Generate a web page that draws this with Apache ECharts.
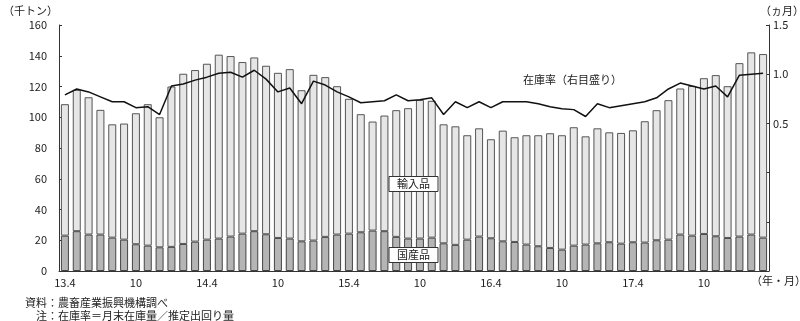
<!DOCTYPE html>
<html>
<head>
<meta charset="utf-8">
<script src="https://cdn.jsdelivr.net/npm/echarts@6/dist/echarts.min.js"></script>
<style>
html,body{margin:0;padding:0;background:#fff;}
#c{width:800px;height:321px;}
</style>
</head>
<body>
<div id="c"></div>
<script>
const categories = [
 "13.4","13.5","13.6","13.7","13.8","13.9","13.10","13.11","13.12","14.1","14.2","14.3",
 "14.4","14.5","14.6","14.7","14.8","14.9","14.10","14.11","14.12","15.1","15.2","15.3",
 "15.4","15.5","15.6","15.7","15.8","15.9","15.10","15.11","15.12","16.1","16.2","16.3",
 "16.4","16.5","16.6","16.7","16.8","16.9","16.10","16.11","16.12","17.1","17.2","17.3",
 "17.4","17.5","17.6","17.7","17.8","17.9","17.10","17.11","17.12","18.1","18.2","18.3"
];
const domestic = [
 23.0,25.9,23.7,23.7,21.7,20.4,17.4,16.5,15.4,15.7,17.6,19.1,
 20.4,21.1,22.4,24.3,25.9,23.9,21.5,21.1,19.3,19.8,22.2,23.7,
 24.3,25.2,26.3,25.9,22.2,21.1,21.1,21.7,18.0,17.0,20.4,22.4,
 21.3,19.3,18.9,17.2,16.1,15.0,13.9,16.5,17.2,18.0,18.7,17.8,
 18.7,18.5,20.0,20.4,23.7,23.0,24.1,22.6,21.5,22.4,23.7,21.7
];
const imported = [
 85.5,91.9,89.3,81.1,73.7,75.5,85.2,92.0,84.6,104.3,110.7,111.6,
 114.4,119.6,117.4,111.6,113.0,109.6,107.4,110.2,98.3,107.8,103.9,96.5,
 87.7,76.8,70.9,75.2,82.4,84.8,90.2,89.0,77.4,77.1,67.9,70.4,
 64.4,72.0,68.1,71.1,72.2,74.6,74.4,77.0,70.4,74.8,71.5,72.0,
 72.8,78.9,84.6,90.7,95.0,97.4,101.3,104.8,98.7,112.8,118.5,119.4
];
const stockRatio = [
 0.79,0.85,0.82,0.77,0.72,0.72,0.66,0.67,0.59,0.88,0.90,0.94,
 0.97,1.01,1.02,0.97,1.04,0.95,0.82,0.86,0.70,0.93,0.89,0.82,
 0.77,0.71,0.72,0.73,0.79,0.73,0.74,0.76,0.59,0.72,0.66,0.72,
 0.66,0.72,0.72,0.72,0.70,0.67,0.65,0.64,0.57,0.70,0.66,0.68,
 0.70,0.72,0.76,0.85,0.91,0.88,0.85,0.88,0.77,0.99,1.00,1.01
];
const leftTicks = {min:0, max:160, interval:20};
const rightTicks = {min:-1, max:1.5, interval:0.5};

const FONT = '"Noto Sans CJK JP", "DejaVu Sans", sans-serif';
const chart = echarts.init(document.getElementById('c'), null, {renderer:'canvas'});
const txt = (text, x, y, extra) => ({
  type:'text', x:x, y:y, z:100, zlevel:0,
  style:Object.assign({text:text, font:'11px ' + FONT, fill:'#222'}, extra || {})
});
const box = (text, cx, cy) => ({
  type:'group', z:100,
  children:[
    {type:'rect', z:100, shape:{x:cx-24.5, y:cy-7.5, width:49, height:15},
     style:{fill:'#fff', stroke:'#333', lineWidth:1}},
    {type:'text', z:101, x:cx, y:cy,
     style:{text:text, font:'11px ' + FONT, fill:'#222', align:'center', verticalAlign:'middle'}}
  ]
});
chart.setOption({
  animation:false,
  backgroundColor:'#fff',
  grid:{left:59, right:31, top:25, bottom:50},
  xAxis:{
    type:'category', data:categories, boundaryGap:true,
    axisLine:{show:true, lineStyle:{color:'#333', width:1}},
    axisTick:{show:false},
    axisLabel:{
      interval:5, margin:6, color:'#222', fontFamily:FONT, fontSize:11,
      formatter:v => v.endsWith('.10') ? '10' : v
    },
    splitLine:{show:false}
  },
  yAxis:[
    {type:'value', min:leftTicks.min, max:leftTicks.max, interval:leftTicks.interval,
     axisLine:{show:true, lineStyle:{color:'#333', width:1}},
     axisTick:{show:true, inside:true, length:3, lineStyle:{color:'#333'}},
     axisLabel:{margin:12, color:'#222', fontFamily:FONT, fontSize:11},
     splitLine:{show:false}},
    {type:'value', min:rightTicks.min, max:rightTicks.max, interval:rightTicks.interval, position:'right',
     axisLine:{show:true, lineStyle:{color:'#333', width:1}},
     axisTick:{show:true, inside:true, length:3, lineStyle:{color:'#333'}},
     axisLabel:{margin:4, color:'#222', fontFamily:FONT, fontSize:11,
       formatter:v => v > 0 ? v.toFixed(1) : ''},
     splitLine:{show:false}}
  ],
  series:[
    {name:'国産品', type:'bar', stack:'s', data:domestic, barWidth:8,
     itemStyle:{color:'#b5b5b5', borderColor:'#444', borderWidth:1}},
    {name:'輸入品', type:'bar', stack:'s', data:imported, barWidth:8,
     itemStyle:{color:'#e6e6e6', borderColor:'#555', borderWidth:1}},
    {name:'在庫率', type:'line', yAxisIndex:1, data:stockRatio, symbol:'none',
     lineStyle:{color:'#111', width:1.5}, z:5}
  ],
  graphic:[
    txt('（千トン）', 3, 5),
    txt('（ヵ月）', 760, 5),
    txt('（年・月）', 751, 275),
    txt('在庫率（右目盛り）', 523, 74),
    box('輸入品', 413.5, 184),
    box('国産品', 413.5, 255),
    txt('資料：農畜産業振興機構調べ', 25, 297),
    txt('注：在庫率＝月末在庫量／推定出回り量', 36, 310)
  ]
});
</script>
</body>
</html>
